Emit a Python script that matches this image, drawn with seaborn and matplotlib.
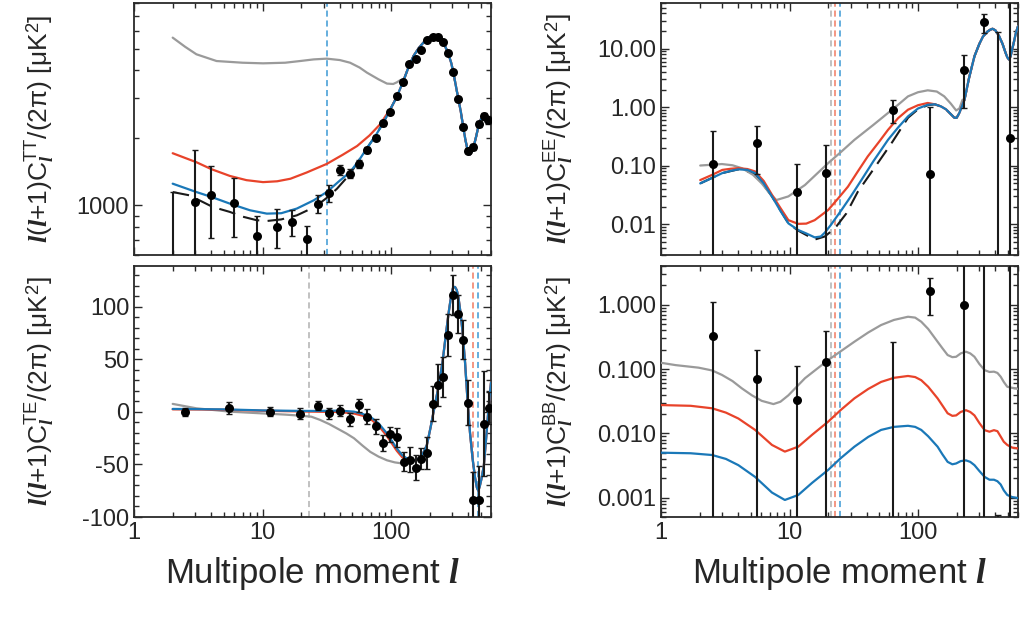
import numpy as np
import pandas as pd
import matplotlib
matplotlib.use("Agg")
import matplotlib.pyplot as plt
import seaborn as sns
from matplotlib.ticker import FixedLocator, NullFormatter, FuncFormatter, LogLocator, MultipleLocator

# ---------------- data ----------------
# TT data points (l, value, lower bound, upper bound)
tt_l = [2, 3, 4, 6, 9, 13, 17, 22, 27, 33, 40, 48, 56, 65, 76, 87, 98, 111, 124, 139, 156, 172, 192, 211, 231,
        254, 278, 304, 334, 364, 399, 437, 481, 527, 573]
tt_val = [250, 1034, 1108, 1024, 728, 798, 843, 704, 1017, 1131, 1440, 1384, 1532, 1773, 1998, 2322, 2596, 3073,
          3547, 4277, 4487, 4950, 5449, 5636, 5636, 5340, 4786, 3925, 2988, 2243, 1756, 1824, 2308, 2494, 2403]
tt_lo = [1, 300, 716, 723, 300, 642, 730, 300, 924, 1034, 1371, 1320, 1470, 1720, 1950, 2270, 2550, 3020, 3490,
         4210, 4420, 4880, 5370, 5560, 5560, 5260, 4710, 3860, 2930, 2190, 1710, 1770, 2240, 2410, 2300]
tt_hi = [1146, 1757, 1495, 1322, 896, 960, 950, 807, 1116, 1236, 1516, 1450, 1600, 1830, 2050, 2380, 2650, 3130,
         3610, 4340, 4560, 5020, 5530, 5710, 5710, 5420, 4860, 3990, 3050, 2300, 1800, 1880, 2380, 2580, 2510]

tt_blue_l = [2, 3.06, 4, 5.58, 8, 10.8, 14, 18.5, 25, 31.6, 40, 48, 56, 65, 76, 87.6, 100, 111, 125, 135, 150,
             165, 180, 195, 210, 225, 240, 255, 278, 295, 310, 334, 350, 364, 380, 395, 412, 425, 440, 460, 481,
             500, 527, 550, 573, 600]
tt_blue_v = [1249, 1146, 1090, 1017, 950, 918, 922, 967, 1052, 1146, 1290, 1406, 1580, 1800, 2050, 2350, 2720,
             3050, 3600, 4050, 4650, 5050, 5350, 5600, 5730, 5760, 5650, 5350, 4790, 4300, 3750, 2990, 2600, 2250,
             1950, 1760, 1685, 1730, 1830, 2030, 2280, 2420, 2500, 2490, 2420, 2330]
tt_red_l = [2, 3.06, 4, 5.58, 7.5, 10.1, 13, 16.5, 22, 31.6, 42, 54.5, 68, 82.6, 98.5]
tt_red_v = [1708, 1557, 1450, 1352, 1295, 1269, 1280, 1314, 1400, 1530, 1680, 1840, 2050, 2305, 2690]
tt_gray_l = [2, 2.5, 3.06, 4.39, 7, 10.1, 15, 19.6, 25, 31.6, 40, 48, 57, 65, 80, 93, 104, 111, 118]
tt_gray_v = [5604, 5100, 4722, 4406, 4330, 4303, 4330, 4406, 4480, 4515, 4450, 4331, 4120, 3910, 3650, 3494,
             3480, 3540, 3620]
tt_black_l = [2, 2.7, 4.1, 5.58, 7, 9, 10.8, 14, 18.5, 22, 26.6, 32, 38, 48]
tt_black_v = [1146, 1108, 983, 934, 890, 858, 851, 865, 902, 945, 1000, 1085, 1186, 1380]

# TE data points
te_l = [2.48, 5.48, 11.4, 19.6, 27, 33, 40, 48, 56, 65, 76, 87, 98, 111, 126, 140, 156, 172, 192, 211, 231, 254,
        278, 306, 334, 365, 395, 437, 480, 527, 577]
te_val = [0, 3.8, 0.3, -1.6, 6, -1.3, 1.3, -7, 6.4, -4.5, -13.7, -29.3, -21.3, -24.2, -47.5, -45.3, -53, -44.3,
          -39, 8, 25.5, 33, 73, 111, 93.5, 69, 9, -84, -84, -11, 4]
te_err = [4, 6, 4, 5, 4, 5, 5, 6, 6, 7, 7, 7.5, 7, 9, 9, 12, 12, 10, 15, 17, 20, 19, 20, 19, 18, 19, 21, 27, 33,
          50, 15]
te_blue_l = [2, 5, 10, 20, 28, 40, 51.5, 60, 69, 80, 93, 111, 122, 133, 145, 155, 165, 175, 190, 203, 217, 235,
             252, 268, 282, 295, 305, 315, 325, 334, 347, 360, 377, 393, 412, 431, 450, 466, 478, 490, 505, 528,
             550, 577, 600]
te_blue_v = [2.9, 2.5, 1.5, 1.0, 1.0, 1.3, 0.3, -1.8, -4.5, -10.8, -20.4, -34.7, -41, -44.3, -46, -46, -44, -41,
             -31.6, -15, 3.5, 25, 48, 75, 96, 112, 119, 119, 116, 110, 95, 77, 47, 13, -20, -44, -62, -72, -75,
             -71, -64, -51, -25, 7, 28]
te_red_l = [2, 5, 10, 20, 28, 40, 51.5, 60, 69, 80, 93, 111, 122, 133]
te_red_v = [2.5, 2.2, 1.2, 0.5, 0.2, 0.0, -1.5, -3.5, -6.5, -13, -23, -37, -43, -46]
te_gray_l = [2, 3.06, 5.58, 9.8, 15, 19.6, 24, 28, 33, 38, 45, 51.5, 60, 69, 80, 93, 107, 122, 140]
te_gray_v = [7.7, 3.5, 0.3, -1.3, -2.5, -3.5, -4.5, -7.5, -11.5, -15.6, -20.5, -25, -32, -38, -42.5, -46, -48,
             -49, -47]

# EE data points
ee_l = [2.52, 5.57, 11.5, 19.4, 64.2, 125, 226, 324, 423, 521]
ee_val = [0.109, 0.244, 0.036, 0.0764, 0.906, 0.073, 4.38, 28.8, 1e-4, 0.297]
ee_lo = [1e-5, 0.072, 1e-5, 1e-5, 0.537, 1e-5, 0.97, 18.6, 1e-6, 1e-5]
ee_hi = [0.395, 0.469, 0.108, 0.228, 1.31, 1.0, 7.7, 38.8, 19.4, 1000]
ee_blue_l = [2.02, 2.5, 3, 3.5, 4.0, 4.7, 5.4, 6.3, 7.3, 8.5, 9.8, 11.7, 13.5, 15.7, 17.5, 18.8, 21, 25.4, 30,
             36.3, 45, 58.4, 70, 83.6, 100, 119, 135, 151, 165, 180, 192, 200, 210, 230, 250, 275, 300, 320, 347,
             365, 380, 400, 428, 455, 480, 495, 510, 525, 540, 560, 578, 600]
ee_blue_v = [0.050, 0.062, 0.075, 0.082, 0.087, 0.085, 0.075, 0.05, 0.030, 0.017, 0.0104, 0.0080, 0.0070,
             0.0060, 0.0062, 0.0072, 0.0098, 0.0176, 0.030, 0.0573, 0.12, 0.277, 0.45, 0.696, 0.95, 1.10, 1.12,
             1.03, 0.92, 0.76, 0.66, 0.66, 0.8, 1.34, 3.2, 7.4, 12, 16, 19.5, 21, 21.8, 20.5, 16.3, 12, 8.5, 7.1,
             6.5, 7.3, 9.6, 13.5, 18.6, 24]
ee_red_l = [2.02, 2.5, 3, 3.5, 4.0, 4.7, 5.4, 6.3, 7.3, 8.5, 9.8, 11.7, 13.5, 15.7, 20, 24, 28.5, 34, 40.6, 50,
            58.4, 70, 83.6, 100, 119]
ee_red_v = [0.057, 0.07, 0.085, 0.089, 0.091, 0.088, 0.080, 0.055, 0.032, 0.019, 0.0118, 0.0102, 0.0103, 0.0118,
            0.0176, 0.028, 0.044, 0.08, 0.144, 0.26, 0.41, 0.65, 0.906, 1.08, 1.18]
ee_gray_l = [2.02, 2.98, 3.6, 4.26, 5.2, 6.08, 7.0, 7.9, 9.8, 13.2, 16, 20, 25, 32, 45, 58.4, 70, 83.6, 100, 119,
             140, 160, 180, 198, 210, 222]
ee_gray_v = [0.101, 0.107, 0.102, 0.091, 0.07, 0.050, 0.034, 0.026, 0.030, 0.047, 0.07, 0.111, 0.17, 0.277,
             0.5, 0.796, 1.1, 1.53, 1.8, 1.94, 1.85, 1.53, 1.15, 0.88, 0.95, 1.34]
ee_black_l = [2.02, 3, 4.0, 5.4, 7.3, 9.8, 11.7, 15.7, 18.8, 22.6, 27.7, 34, 42, 55, 63.5, 83.6, 100, 119]
ee_black_v = [0.050, 0.075, 0.087, 0.074, 0.030, 0.0104, 0.0078, 0.0055, 0.0062, 0.0086, 0.0154, 0.036, 0.070,
              0.164, 0.26, 0.66, 0.92, 1.08]

# BB data points
bb_l = [2.52, 5.57, 11.5, 19.4, 64, 125, 226, 324, 423, 521]
bb_val = [0.321, 0.070, 0.0334, 0.127, 1e-5, 1.61, 0.99, 20, 1e-5, 20]
bb_lo = [1e-6, 1e-6, 1e-6, 1e-6, 1e-6, 0.69, 1e-6, 1e-6, 1e-6, 1e-6]
bb_hi = [1.09, 0.195, 0.113, 0.394, 0.259, 2.56, 100, 100, 0.00053, 100]
bb_curve_l = [1, 1.7, 2.5, 3.2, 4.0, 5.4, 7.3, 9.2, 11.7, 15, 20, 25, 32, 41, 51.6, 65, 83.6, 95, 106, 120, 142,
              155, 170, 185, 198, 215, 236, 255, 275, 300, 330, 360, 390, 415, 440, 465, 495, 540, 578, 600]
bb_red_v = [0.0275, 0.0268, 0.0245, 0.021, 0.0170, 0.0113, 0.0066, 0.0052, 0.0062, 0.0095, 0.0152, 0.023, 0.035,
            0.049, 0.063, 0.073, 0.078, 0.075, 0.067, 0.053, 0.035, 0.027, 0.0205, 0.0187, 0.019, 0.0215, 0.0229,
            0.0215, 0.019, 0.0145, 0.0112, 0.0106, 0.0112, 0.0108, 0.0089, 0.0074, 0.0066, 0.006, 0.0059, 0.0058]
bb_blue_v = [0.0050, 0.0049, 0.0046, 0.0040, 0.0032, 0.0021, 0.0012, 0.00092, 0.0011, 0.0017, 0.0027, 0.0041,
             0.0062, 0.0088, 0.0113, 0.0126, 0.0131, 0.0126, 0.0113, 0.0090, 0.0062, 0.0047, 0.0036, 0.0033,
             0.0034, 0.0037, 0.0038, 0.0036, 0.0032, 0.0026, 0.0021, 0.0019, 0.0019, 0.0018, 0.0016, 0.0013,
             0.0011, 0.00102, 0.0010, 0.00098]
bb_gray_l = [1, 1.3, 1.96, 2.5, 2.98, 3.6, 4.26, 5.1, 6.08, 7.5, 8.5, 9.8, 13.2, 20, 32, 41, 51.6, 65, 83.6, 95,
             106, 120, 142, 155, 170, 185, 198, 215, 236, 255, 275, 300, 330, 360, 390, 415, 440, 465, 495, 540,
             578, 600]
bb_gray_v = [0.125, 0.115, 0.105, 0.095, 0.081, 0.065, 0.050, 0.039, 0.032, 0.0285, 0.031, 0.039, 0.072, 0.138,
             0.266, 0.37, 0.483, 0.58, 0.65, 0.63, 0.544, 0.42, 0.266, 0.21, 0.165, 0.153, 0.155, 0.175, 0.186,
             0.175, 0.155, 0.12, 0.096, 0.09, 0.091, 0.087, 0.076, 0.063, 0.053, 0.051, 0.050, 0.049]

# vertical dashed markers (multipole positions)
tt_vlines = [(31.9, "blue")]
te_vlines = [(23.1, "gray"), (431, "red"), (474, "blue")]
pol_vlines = [(20.9, "gray"), (22.8, "red"), (24.9, "blue")]

# ---------------- style ----------------
sns.set_style("ticks")
plt.rcParams.update({
    "font.family": ["Liberation Sans", "DejaVu Sans"],
    "mathtext.fontset": "custom",
    "mathtext.rm": "Liberation Sans",
    "mathtext.sf": "Liberation Sans",
    "mathtext.it": "Liberation Serif:italic:bold",
    "mathtext.bf": "Liberation Sans:bold",
    "axes.edgecolor": "#2a2a2a",
    "axes.linewidth": 1.3,
})

COL = {"gray": "#9a9a9a", "red": "#e8432a", "blue": "#1a78b8", "black": "#1a1a1a"}
VCOL = {"gray": "#b0b0b0", "red": "#f07a62", "blue": "#3a98d4"}

fig = plt.figure(figsize=(10.31, 6.17), dpi=100)
W, H = 1031, 617


def add_ax(x0, y0, x1, y1):
    return fig.add_axes([x0 / W, 1 - y1 / H, (x1 - x0) / W, (y1 - y0) / H])


ax_tt = add_ax(134, 3, 491, 255)
ax_te = add_ax(134, 266, 491, 517)
ax_ee = add_ax(661, 3, 1018, 255)
ax_bb = add_ax(661, 266, 1018, 517)


def tail(base_l, base_v, after):
    ls = [l for l in base_l if l > after]
    vs = [v for l, v in zip(base_l, base_v) if l > after]
    return ls, vs


def curve(ax, l, v, color, z, dashed=False):
    df = pd.DataFrame({"l": l, "v": v})
    sns.lineplot(data=df, x="l", y="v", ax=ax, color=color, lw=1.6, sort=False, estimator=None,
                 legend=False, zorder=z)
    line = ax.lines[-1]
    line.set_solid_joinstyle("round")
    if dashed:
        line.set_dashes([8, 4])
        line.set_linewidth(1.5)


def points(ax, l, val, lo, hi):
    val = np.asarray(val, float)
    yerr = [val - np.asarray(lo, float), np.asarray(hi, float) - val]
    ax.errorbar(l, val, yerr=yerr, fmt="none", ecolor="#1a1a1a", elinewidth=1.5, capsize=2.5,
                capthick=1.0, zorder=6)
    sns.scatterplot(x=l, y=val, ax=ax, color="black", s=42, edgecolor="black", linewidth=0,
                    zorder=7, legend=False)


def vlines(ax, items):
    for xv, c in items:
        ax.axvline(xv, color=VCOL[c], lw=1.1, dashes=(4, 2.5), zorder=1)


for ax in (ax_tt, ax_te, ax_ee, ax_bb):
    ax.set_xscale("log")
for ax in (ax_tt, ax_ee, ax_bb):
    ax.set_yscale("log")

# TT
vlines(ax_tt, tt_vlines)
bl, bv = tail(tt_blue_l, tt_blue_v, 48)
curve(ax_tt, tt_black_l + bl, tt_black_v + bv, COL["black"], 2, dashed=True)
gl, gv = tail(tt_blue_l, tt_blue_v, 118)
curve(ax_tt, tt_gray_l + gl, tt_gray_v + gv, COL["gray"], 3)
rl, rv = tail(tt_blue_l, tt_blue_v, 98.5)
curve(ax_tt, tt_red_l + rl, tt_red_v + rv, COL["red"], 4)
curve(ax_tt, tt_blue_l, tt_blue_v, COL["blue"], 5)
points(ax_tt, tt_l, tt_val, tt_lo, tt_hi)

# TE
vlines(ax_te, te_vlines)
gl, gv = tail(te_blue_l, te_blue_v, 140)
curve(ax_te, te_gray_l + gl, te_gray_v + gv, COL["gray"], 3)
rl, rv = tail(te_blue_l, te_blue_v, 133)
curve(ax_te, te_red_l + rl, te_red_v + rv, COL["red"], 4)
curve(ax_te, te_blue_l, te_blue_v, COL["blue"], 5)
te_v = np.asarray(te_val, float)
te_e = np.asarray(te_err, float)
points(ax_te, te_l, te_v, te_v - te_e, te_v + te_e)

# EE
vlines(ax_ee, pol_vlines)
bl, bv = tail(ee_blue_l, ee_blue_v, 119)
curve(ax_ee, ee_black_l + bl, ee_black_v + bv, COL["black"], 2, dashed=True)
gl, gv = tail(ee_blue_l, ee_blue_v, 222)
curve(ax_ee, ee_gray_l + gl, ee_gray_v + gv, COL["gray"], 3)
rl, rv = tail(ee_blue_l, ee_blue_v, 119)
curve(ax_ee, ee_red_l + rl, ee_red_v + rv, COL["red"], 4)
curve(ax_ee, ee_blue_l, ee_blue_v, COL["blue"], 5)
points(ax_ee, ee_l, ee_val, ee_lo, ee_hi)

# BB
vlines(ax_bb, pol_vlines)
curve(ax_bb, bb_gray_l, bb_gray_v, COL["gray"], 3)
curve(ax_bb, bb_curve_l, bb_red_v, COL["red"], 4)
curve(ax_bb, bb_curve_l, bb_blue_v, COL["blue"], 5)
points(ax_bb, bb_l, bb_val, bb_lo, bb_hi)

# ---------------- axes ----------------
TICK_FS = 17
for ax in (ax_tt, ax_te, ax_ee, ax_bb):
    ax.set_xlim(1, 600)
    ax.xaxis.set_major_locator(FixedLocator([1, 10, 100]))
    ax.xaxis.set_minor_locator(LogLocator(base=10, subs=np.arange(2, 10)))
    ax.xaxis.set_major_formatter(FuncFormatter(lambda v, p: f"{v:g}"))
    ax.xaxis.set_minor_formatter(NullFormatter())
    ax.tick_params(which="both", direction="in", top=True, right=True, labelsize=TICK_FS,
                   color="#2a2a2a", width=1.0)
    ax.tick_params(which="major", length=6)
    ax.tick_params(which="minor", length=3.5)
    ax.set_xlabel("")
    ax.set_ylabel("")
    for s in ax.spines.values():
        s.set_visible(True)

for ax in (ax_tt, ax_ee):
    ax.tick_params(axis="x", labelbottom=False)

ax_tt.set_ylim(600, 8000)
ax_tt.yaxis.set_major_locator(FixedLocator([1000]))
ax_tt.yaxis.set_minor_locator(LogLocator(base=10, subs=np.arange(2, 10)))
ax_tt.yaxis.set_major_formatter(FuncFormatter(lambda v, p: f"{v:.0f}"))
ax_tt.yaxis.set_minor_formatter(NullFormatter())

ax_te.set_ylim(-100, 139)
ax_te.yaxis.set_major_locator(FixedLocator([-100, -50, 0, 50, 100]))
ax_te.yaxis.set_minor_locator(MultipleLocator(10))
ax_te.yaxis.set_major_formatter(FuncFormatter(lambda v, p: f"{v:.0f}"))

ax_ee.set_ylim(0.003, 60)
ax_ee.yaxis.set_major_locator(FixedLocator([0.01, 0.1, 1, 10]))
ax_ee.yaxis.set_minor_locator(LogLocator(base=10, subs=np.arange(2, 10)))
ax_ee.yaxis.set_major_formatter(FuncFormatter(lambda v, p: f"{v:.2f}"))
ax_ee.yaxis.set_minor_formatter(NullFormatter())

ax_bb.set_ylim(0.0005, 4)
ax_bb.yaxis.set_major_locator(FixedLocator([0.001, 0.01, 0.1, 1]))
ax_bb.yaxis.set_minor_locator(LogLocator(base=10, subs=np.arange(2, 10)))
ax_bb.yaxis.set_major_formatter(FuncFormatter(lambda v, p: f"{v:.3f}"))
ax_bb.yaxis.set_minor_formatter(NullFormatter())

YL_FS = 19


def ylab(spec):
    return (r"$\mathit{l}$($\mathit{l}$+1)C$_{\mathit{l}}^{\mathrm{" + spec + r"}}$/(2π) [μK$^{2}$]")


for ax, spec, xc in ((ax_tt, "TT", -0.215), (ax_te, "TE", -0.215), (ax_ee, "EE", -0.237), (ax_bb, "BB", -0.237)):
    ax.set_ylabel(ylab(spec), fontsize=YL_FS)
    ax.yaxis.set_label_coords(xc, 0.5)

for ax in (ax_te, ax_bb):
    ax.set_xlabel(r"Multipole moment $\mathit{l}$", fontsize=25, labelpad=8)

fig.savefig("out.png", dpi=100)
